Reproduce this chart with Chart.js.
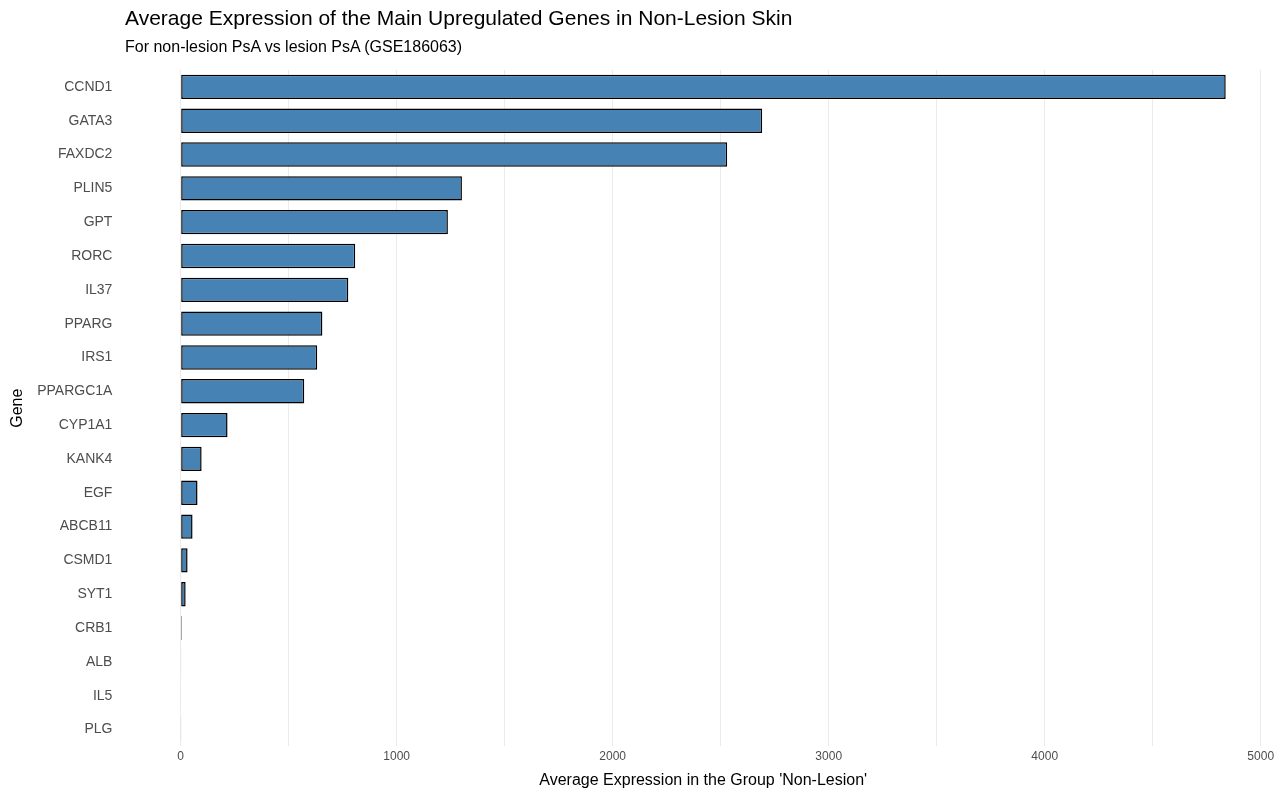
<!DOCTYPE html>
<html>
<head>
<meta charset="utf-8">
<script src="https://cdn.jsdelivr.net/npm/chart.js@4/dist/chart.umd.min.js"></script>
<style>
  body { margin: 0; background: #fff; font-family: "Liberation Sans", Arial, sans-serif; }
  #wrap { position: relative; width: 1288px; height: 800px; }
  .title { position: absolute; left: 125px; top: 6px; font-size: 21px; color: #000; }
  .subtitle { position: absolute; left: 125px; top: 38px; font-size: 16px; color: #000; }
</style>
</head>
<body>
<div id="wrap">
  <canvas id="chart" width="1288" height="800"></canvas>
  <div class="title">Average Expression of the Main Upregulated Genes in Non-Lesion Skin</div>
  <div class="subtitle">For non-lesion PsA vs lesion PsA (GSE186063)</div>
</div>
<script>
const genes = ["CCND1", "GATA3", "FAXDC2", "PLIN5", "GPT", "RORC", "IL37", "PPARG", "IRS1",
  "PPARGC1A", "CYP1A1", "KANK4", "EGF", "ABCB11", "CSMD1", "SYT1", "CRB1", "ALB", "IL5", "PLG"];
const expression = [4838, 2692, 2530, 1302, 1237, 808, 776, 656, 632, 572, 217, 97, 78, 55, 32, 23, 5, 3, 2, 1];
const xTicks = [0, 500, 1000, 1500, 2000, 2500, 3000, 3500, 4000, 4500, 5000];

const ctx = document.getElementById("chart").getContext("2d");
new Chart(ctx, {
  type: "bar",
  data: {
    labels: genes,
    datasets: [{
      data: expression,
      backgroundColor: "#4682b4",
      borderColor: "#000",
      borderWidth: 1.5,
      borderSkipped: false,
      barPercentage: 0.72,
      categoryPercentage: 1,
    }],
  },
  options: {
    indexAxis: "y",
    responsive: false,
    animation: false,
    layout: { padding: { top: 70, right: 10, left: 4, bottom: 6 } },
    plugins: { legend: { display: false }, tooltip: { enabled: false } },
    scales: {
      x: {
        min: -242,
        max: 5080,
        afterBuildTicks: (axis) => { axis.ticks = xTicks.map((v) => ({ value: v })); },
        ticks: {
          color: "#4d4d4d",
          font: { size: 12, family: "Liberation Sans" },
          callback: (v) => (v % 1000 === 0 ? v : ""),
        },
        grid: { color: "#ebebeb", lineWidth: 1, drawTicks: false },
        border: { display: false },
        title: { display: true, text: "Average Expression in the Group 'Non-Lesion'", color: "#000",
          font: { size: 16, family: "Liberation Sans" }, padding: { top: 4 } },
      },
      y: {
        ticks: { color: "#4d4d4d", font: { size: 14, family: "Liberation Sans" }, padding: 8 },
        grid: { display: false },
        border: { display: false },
        title: { display: true, text: "Gene", color: "#000",
          font: { size: 16, family: "Liberation Sans" }, padding: { bottom: 2 } },
      },
    },
  },
});
</script>
</body>
</html>
